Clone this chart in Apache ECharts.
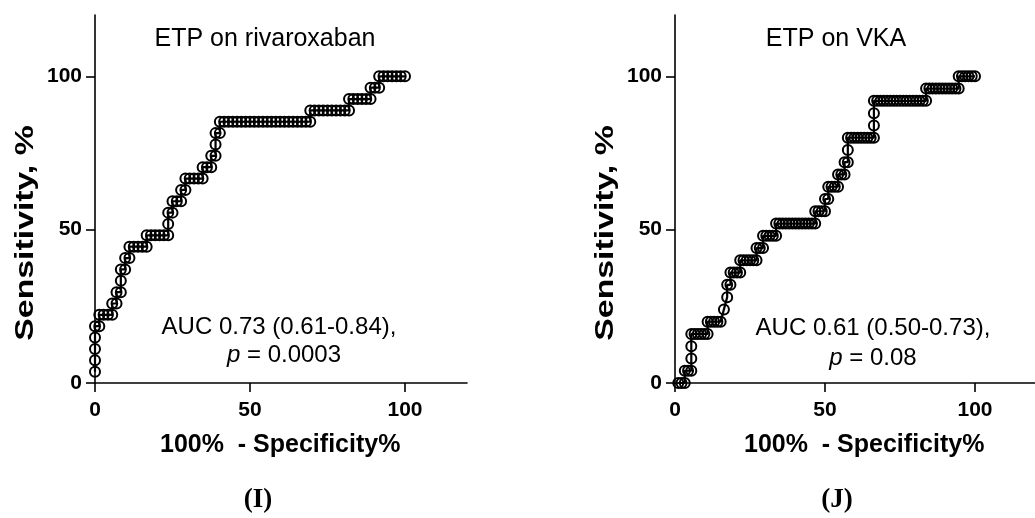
<!DOCTYPE html>
<html>
<head>
<meta charset="utf-8">
<script src="https://cdn.jsdelivr.net/npm/echarts@6/dist/echarts.min.js"></script>
<style>
  html, body { margin: 0; padding: 0; background: #fff; }
  #main { width: 1035px; height: 518px; }
</style>
</head>
<body>
<div id="main"></div>
<script>
// ROC points as [false positives, true positives] counts
var rivaNeg = 72, rivaPos = 27;
var rivaPoints = [
  [0,1],[0,2],[0,3],[0,4],[0,5],[1,5],
  [1,6],[2,6],[3,6],[4,6],[4,7],[5,7],[5,8],[6,8],[6,9],[6,10],[7,10],[7,11],[8,11],
  [8,12],[9,12],[10,12],[11,12],[12,12],
  [12,13],[13,13],[14,13],[15,13],[16,13],[17,13],
  [17,14],[17,15],[18,15],[18,16],[19,16],[20,16],[20,17],[21,17],
  [21,18],[22,18],[23,18],[24,18],[25,18],[25,19],[26,19],[27,19],
  [27,20],[28,20],[28,21],[28,22],[29,22],
  [29,23],[30,23],[31,23],[32,23],[33,23],[34,23],[35,23],[36,23],[37,23],[38,23],[39,23],
  [40,23],[41,23],[42,23],[43,23],[44,23],[45,23],[46,23],[47,23],[48,23],[49,23],[50,23],
  [50,24],[51,24],[52,24],[53,24],[54,24],[55,24],[56,24],[57,24],[58,24],[59,24],
  [59,25],[60,25],[61,25],[62,25],[63,25],[64,25],
  [64,26],[65,26],[66,26],
  [66,27],[67,27],[68,27],[69,27],[70,27],[71,27],[72,27]
];

var vkaNeg = 92, vkaPos = 25;
var vkaPoints = [
  [1,0],[2,0],[3,0],[3,1],[4,1],[5,1],[5,2],[5,3],
  [5,4],[6,4],[7,4],[8,4],[9,4],[10,4],
  [10,5],[11,5],[12,5],[13,5],[14,5],[15,6],[16,7],[16,8],[17,8],
  [17,9],[18,9],[19,9],[20,9],[20,10],[21,10],[22,10],[23,10],[24,10],[25,10],
  [25,11],[26,11],[27,11],[27,12],[28,12],[29,12],[30,12],[31,12],
  [31,13],[32,13],[33,13],[34,13],[35,13],[36,13],[37,13],[38,13],[39,13],[40,13],[41,13],[42,13],[43,13],
  [43,14],[44,14],[45,14],[46,14],[46,15],[47,15],
  [47,16],[48,16],[49,16],[50,16],[50,17],[51,17],[52,17],[52,18],[53,18],[53,19],
  [53,20],[54,20],[55,20],[56,20],[57,20],[58,20],[59,20],[60,20],[61,20],
  [61,21],[61,22],
  [61,23],[62,23],[63,23],[64,23],[65,23],[66,23],[67,23],[68,23],[69,23],[70,23],[71,23],
  [72,23],[73,23],[74,23],[75,23],[76,23],[77,23],
  [77,24],[78,24],[79,24],[80,24],[81,24],[82,24],[83,24],[84,24],[85,24],[86,24],[87,24],
  [87,25],[88,25],[89,25],[90,25],[91,25],[92,25]
];

var tickValues = [0, 50, 100];

function toPercent(points, nNeg, nPos) {
  return points.map(function (p) {
    return [p[0] / nNeg * 100, p[1] / nPos * 100];
  });
}

var myChart = echarts.init(document.getElementById('main'), null, { renderer: 'canvas' });

var axisFont = 'Liberation Sans, Arial, sans-serif';

function makeX(gridIndex) {
  return {
    type: 'value', gridIndex: gridIndex,
    min: 0, max: 120, interval: 50,
    axisLine: { show: true, onZero: false, lineStyle: { color: '#000', width: 1.6 } },
    axisTick: { show: true, length: 9, customValues: tickValues, lineStyle: { color: '#000', width: 1.6 } },
    axisLabel: { customValues: tickValues, margin: 17, color: '#000', fontSize: 21, fontWeight: 'bold', fontFamily: axisFont },
    splitLine: { show: false }
  };
}
function makeY(gridIndex) {
  return {
    type: 'value', gridIndex: gridIndex,
    min: 0, max: 120, interval: 50,
    axisLine: { show: true, onZero: false, lineStyle: { color: '#000', width: 1.6 } },
    axisTick: { show: true, length: 9, customValues: tickValues, lineStyle: { color: '#000', width: 1.6 } },
    axisLabel: { customValues: tickValues, margin: 13, color: '#000', fontSize: 21, fontWeight: 'bold', fontFamily: axisFont },
    splitLine: { show: false }
  };
}
function makeSeries(idx, data) {
  return {
    type: 'line', xAxisIndex: idx, yAxisIndex: idx,
    data: data,
    symbol: 'circle', symbolSize: 10,
    showAllSymbol: true,
    itemStyle: { color: 'rgba(0,0,0,0)', borderColor: '#000', borderWidth: 2 },
    lineStyle: { color: '#000', width: 2.2 },
    animation: false,
    silent: true
  };
}

function txt(x, y, text, size, weight, align, extra) {
  var o = {
    type: 'text', x: x, y: y,
    style: {
      text: text, fill: '#000',
      font: (weight || 'normal') + ' ' + size + 'px ' + axisFont,
      textAlign: align || 'center', textVerticalAlign: 'middle'
    }
  };
  if (extra) { for (var k in extra) o[k] = extra[k]; }
  return o;
}
function pLine(x, y, rest) {
  return {
    type: 'text', x: x, y: y,
    style: {
      text: '{i|p}{n|' + rest + '}',
      textAlign: 'center', textVerticalAlign: 'middle',
      rich: {
        i: { fontStyle: 'italic', fontSize: 24, fontFamily: axisFont, fill: '#000' },
        n: { fontSize: 24, fontFamily: axisFont, fill: '#000' }
      }
    }
  };
}

// the y names are drawn stretched along their length, as in the source figure
var yNameStretch = { rotation: Math.PI / 2, scaleX: 1.3 };

var option = {
  backgroundColor: '#fff',
  animation: false,
  grid: [
    { left: 95, top: 15, width: 372, height: 368 },
    { left: 675, top: 15, width: 372, height: 368 }
  ],
  xAxis: [makeX(0), makeX(1)],
  yAxis: [makeY(0), makeY(1)],
  series: [
    makeSeries(0, toPercent(rivaPoints, rivaNeg, rivaPos)),
    makeSeries(1, toPercent(vkaPoints, vkaNeg, vkaPos))
  ],
  graphic: [
    txt(265, 39, 'ETP on rivaroxaban', 25),
    txt(836, 39, 'ETP on VKA', 25),
    txt(26, 233, 'Sensitivity, %', 26, 'bold', 'center', yNameStretch),
    txt(606, 233, 'Sensitivity, %', 26, 'bold', 'center', yNameStretch),
    txt(160, 445, '100%  - Specificity%', 25, 'bold', 'left'),
    txt(744, 445, '100%  - Specificity%', 25, 'bold', 'left'),
    txt(279, 327, 'AUC 0.73 (0.61-0.84),', 24),
    pLine(284, 355, ' = 0.0003'),
    txt(873, 328, 'AUC 0.61 (0.50-0.73),', 24),
    pLine(873, 358, ' = 0.08'),
    {
      type: 'text', x: 258, y: 500,
      style: { text: '(I)', fill: '#000', font: 'bold 27px Liberation Serif, Times New Roman, serif', textAlign: 'center', textVerticalAlign: 'middle' }
    },
    {
      type: 'text', x: 837, y: 500,
      style: { text: '(J)', fill: '#000', font: 'bold 27px Liberation Serif, Times New Roman, serif', textAlign: 'center', textVerticalAlign: 'middle' }
    }
  ]
};

myChart.setOption(option);
</script>
</body>
</html>
